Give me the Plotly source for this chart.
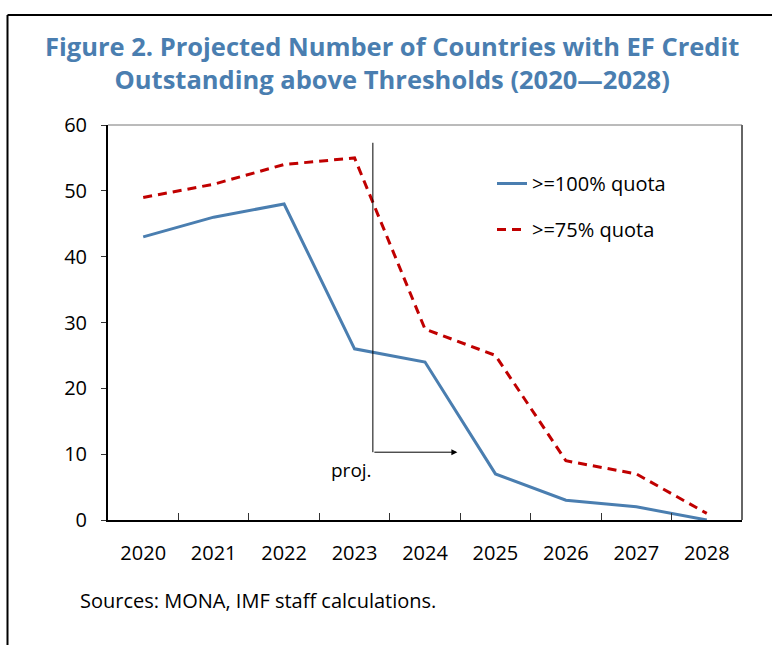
import plotly.graph_objects as go

years = ["2020", "2021", "2022", "2023", "2024", "2025", "2026", "2027", "2028"]
quota100 = [43, 46, 48, 26, 24, 7, 3, 2, 0]
quota75 = [49, 51, 54, 55, 29, 25, 9, 7, 1]
y_ticks = [0, 10, 20, 30, 40, 50, 60]

FONT = "Open Sans"
BLUE = "#4A7EB0"
RED = "#C00000"

fig = go.Figure()
fig.add_trace(go.Scatter(x=years, y=quota100, mode="lines", name=">=100% quota",
                         line=dict(color=BLUE, width=3), legendgroup="a"))
fig.add_trace(go.Scatter(x=years, y=quota75, mode="lines", name=">=75% quota",
                         line=dict(color=RED, width=3, dash="9px,6px"), legendgroup="b"))

L, R, T, B = 108, 30, 125, 125
W, H = 772, 645
pw, ph = W - L - R, H - T - B

def fx(px):
    return (px - L) / pw

def fy(py):
    return (H - B - py) / ph

shapes = [
    dict(type="line", xref="paper", yref="paper", x0=fx(7.5), x1=fx(772), y0=fy(15), y1=fy(15),
         line=dict(color="black", width=2)),
    dict(type="line", xref="paper", yref="paper", x0=fx(7.5), x1=fx(7.5), y0=fy(15), y1=fy(645),
         line=dict(color="black", width=2)),
    dict(type="line", xref="paper", yref="paper", x0=0, x1=1, y0=1, y1=1,
         line=dict(color="#777777", width=1)),
    dict(type="line", xref="paper", yref="paper", x0=1, x1=1, y0=0, y1=1,
         line=dict(color="#666666", width=2)),
    dict(type="line", xref="x", yref="y", x0=3.26, x1=3.26, y0=57.3, y1=10.3,
         line=dict(color="black", width=1)),
]

annotations = [
    dict(x=4.46, y=10.3, ax=3.26, ay=10.3, xref="x", yref="y", axref="x", ayref="y",
         showarrow=True, arrowhead=2, arrowsize=1.2, arrowwidth=1, arrowcolor="black", text=""),
    dict(x=2.95, y=7.6, xref="x", yref="y", text="proj.", showarrow=False,
         font=dict(family=FONT, size=19, color="black")),
    dict(x=fx(78), y=fy(600), xref="paper", yref="paper", xanchor="left", yanchor="middle",
         text="Sources: MONA, IMF staff calculations.", showarrow=False,
         font=dict(family=FONT, size=20, color="black")),
    dict(x=fx(392), xref="paper", y=fy(62), yref="paper", xanchor="center", yanchor="middle",
         text="<b>Figure 2. Projected Number of Countries with EF Credit<br>Outstanding above Thresholds (2020\u20142028)</b>",
         showarrow=False, font=dict(family=FONT, size=25.5, color=BLUE)),
]

fig.update_layout(
    width=W, height=H,
    margin=dict(l=L, r=R, t=T, b=B),
    paper_bgcolor="white", plot_bgcolor="white",
    font=dict(family=FONT, size=20, color="black"),
    showlegend=True,
    legend=dict(x=fx(492), y=fy(164), xanchor="left", yanchor="top",
                bgcolor="rgba(0,0,0,0)", traceorder="grouped", tracegroupgap=17,
                font=dict(family=FONT, size=20, color="black")),
    shapes=shapes,
    annotations=annotations,
)

fig.update_xaxes(type="category", range=[-0.5, 8.5], showline=True, linecolor="black", linewidth=2,
                 ticks="inside", tickson="boundaries", ticklen=7, tickcolor="#333333", tickwidth=1,
                 ticklabelstandoff=14, showgrid=False, zeroline=False,
                 tickfont=dict(family=FONT, size=20, color="black"))
fig.update_yaxes(range=[0, 60], tickvals=y_ticks, showline=True, linecolor="black", linewidth=2,
                 ticks="outside", ticklen=5, tickcolor="#333333", tickwidth=1,
                 ticklabelstandoff=10, showgrid=False, zeroline=False,
                 tickfont=dict(family=FONT, size=20, color="black"))

fig.write_html("out.html", config={"displayModeBar": False},
               post_script="document.body.style.margin='0';document.body.style.overflow='hidden';")
